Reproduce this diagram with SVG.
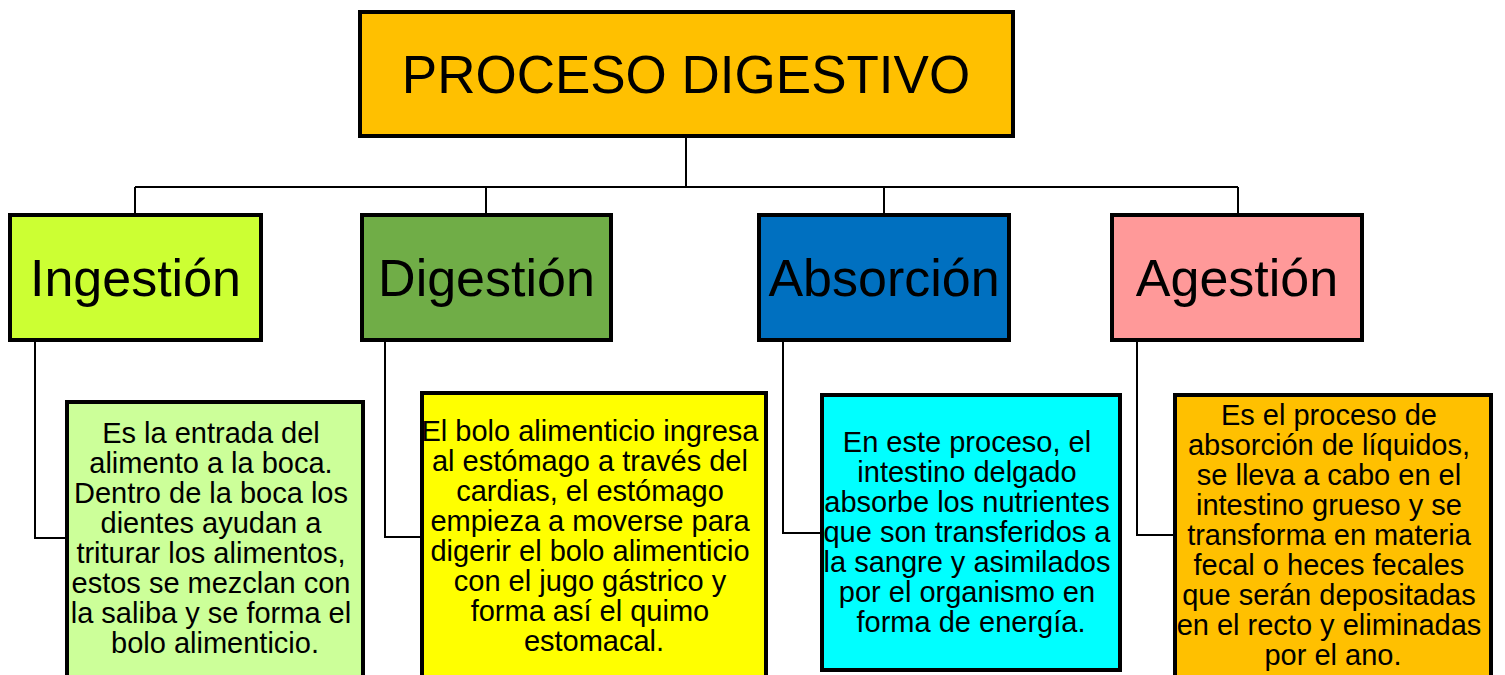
<svg xmlns="http://www.w3.org/2000/svg" width="1505" height="675" viewBox="0 0 1505 675">
<style>
.box{stroke:#000;stroke-width:4}
.big{font-family:"Liberation Sans",Arial,sans-serif;font-size:52px;fill:#000;text-anchor:middle}
.title{font-family:"Liberation Sans",Arial,sans-serif;font-size:53px;fill:#000;text-anchor:middle}
.txt{font-family:"Liberation Sans",Arial,sans-serif;font-size:29px;fill:#000;text-anchor:middle}
.con{fill:none;stroke:#000;stroke-width:2}
</style>
<rect width="1505" height="675" fill="#fff"/>
<g id="connectors">
<path class="con" d="M686 138V187M135 187H1238M135 187V214M486 187V214M884 187V214M1238 187V214"/>
<path class="con" d="M35 341V538H67"/>
<path class="con" d="M385 341V537H422"/>
<path class="con" d="M783 341V533H822"/>
<path class="con" d="M1137 341V535H1175"/>
</g>
<g id="proceso">
<rect class="box" x="360" y="12" width="653" height="124" fill="#FFC000"/>
<text class="title" x="686" y="93">PROCESO DIGESTIVO</text>
</g>
<g id="ingestion">
<rect class="box" x="10" y="215" width="251" height="125" fill="#CCFF33"/>
<text class="big" x="135.5" y="296">Ingestión</text>
</g>
<g id="digestion">
<rect class="box" x="362" y="215" width="249" height="125" fill="#70AD47"/>
<text class="big" x="486.5" y="296">Digestión</text>
</g>
<g id="absorcion">
<rect class="box" x="759" y="215" width="250" height="125" fill="#0070C0"/>
<text class="big" x="884" y="296">Absorción</text>
</g>
<g id="agestion">
<rect class="box" x="1112" y="215" width="250" height="125" fill="#FF9999"/>
<text class="big" x="1237" y="296">Agestión</text>
</g>
<g id="ingestion-desc">
<rect class="box" x="67" y="402" width="296" height="300" fill="#CCFF99"/>
<text class="txt">
<tspan x="215" y="443">Es la entrada del</tspan>
<tspan x="215" y="473">alimento a la boca.</tspan>
<tspan x="215" y="503">Dentro de la boca los</tspan>
<tspan x="215" y="533">dientes ayudan a</tspan>
<tspan x="215" y="563">triturar los alimentos,</tspan>
<tspan x="215" y="593">estos se mezclan con</tspan>
<tspan x="215" y="623">la saliba y se forma el</tspan>
<tspan x="215" y="653">bolo alimenticio.</tspan>
</text>
</g>
<g id="digestion-desc">
<rect class="box" x="422" y="393" width="344" height="300" fill="#FFFF00"/>
<text class="txt">
<tspan x="594" y="441">El bolo alimenticio ingresa</tspan>
<tspan x="594" y="471">al estómago a través del</tspan>
<tspan x="594" y="501">cardias, el estómago</tspan>
<tspan x="594" y="531">empieza a moverse para</tspan>
<tspan x="594" y="561">digerir el bolo alimenticio</tspan>
<tspan x="594" y="591">con el jugo gástrico y</tspan>
<tspan x="594" y="621">forma así el quimo</tspan>
<tspan x="594" y="651">estomacal.</tspan>
</text>
</g>
<g id="absorcion-desc">
<rect class="box" x="822" y="395" width="298" height="275" fill="#00FFFF"/>
<text class="txt">
<tspan x="971" y="452">En este proceso, el</tspan>
<tspan x="971" y="482">intestino delgado</tspan>
<tspan x="971" y="512">absorbe los nutrientes</tspan>
<tspan x="971" y="542">que son transferidos a</tspan>
<tspan x="971" y="572">la sangre y asimilados</tspan>
<tspan x="971" y="602">por el organismo en</tspan>
<tspan x="971" y="632">forma de energía.</tspan>
</text>
</g>
<g id="agestion-desc">
<rect class="box" x="1175" y="395" width="316" height="300" fill="#FFC000"/>
<text class="txt">
<tspan x="1333" y="425">Es el proceso de</tspan>
<tspan x="1333" y="455">absorción de líquidos,</tspan>
<tspan x="1333" y="485">se lleva a cabo en el</tspan>
<tspan x="1333" y="515">intestino grueso y se</tspan>
<tspan x="1333" y="545">transforma en materia</tspan>
<tspan x="1333" y="575">fecal o heces fecales</tspan>
<tspan x="1333" y="605">que serán depositadas</tspan>
<tspan x="1333" y="635">en el recto y eliminadas</tspan>
<tspan x="1333" y="665">por el ano.</tspan>
</text>
</g>
</svg>
